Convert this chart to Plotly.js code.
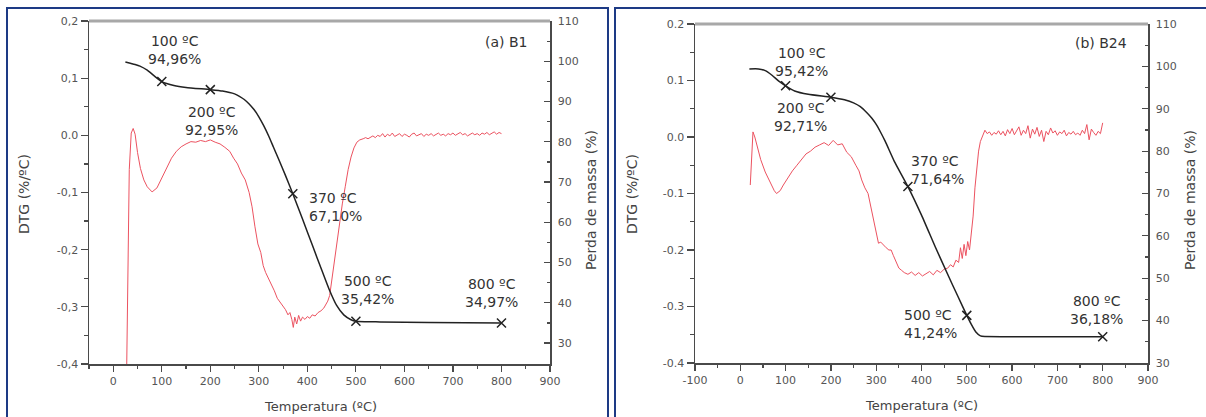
<!DOCTYPE html>
<html><head><meta charset="utf-8">
<script src="https://cdn.plot.ly/plotly-3.0.1.min.js"></script>
<style>html,body{margin:0;padding:0;background:#fff}#chart{width:1206px;height:417px}</style>
</head><body><div id="chart"></div>
<script>
// ---------------- DATA ----------------
// Panel (a) B1 – mass loss (TG) curve
const b1MassT = [25,35,45,55,70,85,100,125,150,200,225,250,260,270,280,290,300,310,320,330,340,355,370,390,410,430,445,460,475,490,500,550,650,800];
const b1Mass  = [99.8,99.5,99.2,98.8,97.8,96.3,94.96,94.0,93.5,92.95,92.6,91.9,91.3,90.5,89.4,88.0,86.2,84.0,81.5,78.7,75.9,71.6,67.1,60.8,54.4,48.0,43.3,39.4,37.0,35.8,35.42,35.25,35.1,34.97];
// Panel (a) B1 – DTG curve
const b1DtgT = [27,30,33,37,41,45,50,56,63,70,80,90,100,110,120,130,140,150,160,170,180,190,200,210,220,230,240,248,256,264,272,280,286,292,298,304,309,314,320,326,332,338,344,350,355,360,364,368,371,374,378,382,386,390,395,400,405,410,416,422,428,434,438,442,446,450,455,460,466,472,478,484,490,496,502,508,515,
  520,525,530,535,540,545,550,555,560,565,570,575,580,585,590,595,600,605,610,615,620,625,630,635,640,645,650,655,660,665,670,675,680,685,690,695,700,705,710,715,720,725,730,735,740,745,750,755,760,765,770,775,780,785,790,795,800];
const b1Dtg = [-0.45,-0.22,-0.06,0.004,0.012,0.002,-0.03,-0.058,-0.078,-0.09,-0.099,-0.092,-0.074,-0.055,-0.04,-0.028,-0.02,-0.015,-0.011,-0.012,-0.009,-0.011,-0.008,-0.012,-0.015,-0.021,-0.028,-0.04,-0.05,-0.066,-0.078,-0.1,-0.125,-0.16,-0.19,-0.205,-0.228,-0.24,-0.25,-0.262,-0.272,-0.285,-0.292,-0.3,-0.305,-0.314,-0.31,-0.322,-0.336,-0.318,-0.33,-0.315,-0.325,-0.318,-0.322,-0.317,-0.32,-0.314,-0.316,-0.31,-0.307,-0.302,-0.297,-0.29,-0.28,-0.255,-0.22,-0.19,-0.155,-0.12,-0.09,-0.06,-0.038,-0.022,-0.012,-0.008,-0.006,
  -0.004,-0.006,-0.003,-0.001,-0.004,0.000,-0.002,0.003,-0.003,0.002,-0.001,0.004,-0.002,0.001,0.003,-0.002,0.002,0.000,-0.003,0.002,0.004,-0.001,0.001,0.003,-0.002,0.002,0.000,0.003,-0.001,0.001,0.004,0.000,0.002,-0.001,0.003,0.001,0.004,0.000,0.002,0.005,0.001,0.003,-0.001,0.002,0.004,0.001,0.003,0.000,0.004,0.002,0.005,0.001,0.003,0.006,0.002,0.005,0.003];
const b1MarkT = [100,200,370,500,800];
const b1MarkV = [94.96,92.95,67.10,35.42,34.97];
const b1Labels = ['100 ºC<br>94,96%','200 ºC<br>92,95%','370 ºC<br>67,10%','500 ºC<br>35,42%','800 ºC<br>34,97%'];

// Panel (b) B24 – mass loss (TG) curve
const b2MassT = [20,40,55,70,85,100,120,150,200,230,250,265,280,290,300,310,320,340,370,400,430,460,480,500,510,520,530,540,600,700,800];
const b2Mass  = [99.4,99.4,99.0,97.9,96.5,95.42,94.2,93.4,92.71,92.1,91.4,90.5,89.0,87.8,86.3,84.4,82.3,77.6,71.64,64.9,57.5,50.4,45.8,41.24,39.1,37.3,36.4,36.25,36.22,36.2,36.18];
// Panel (b) B24 – DTG curve
const b2DtgT = [22,25,28,32,38,45,55,65,75,80,88,95,105,115,125,135,145,155,165,175,185,195,205,215,225,235,245,255,262,268,275,282,289,295,300,305,310,316,322,328,333,338,344,350,356,362,370,378,386,394,402,410,418,426,434,442,450,458,464,470,476,482,486,490,494,498,502,506,510,514,518,522,526,530,
  535,540,545,550,555,560,565,570,575,580,585,590,595,600,605,610,615,620,625,630,635,640,645,650,655,660,665,670,675,680,685,690,695,700,705,710,715,720,725,730,735,740,745,750,755,760,765,770,775,780,785,790,795,800];
const b2Dtg = [-0.085,-0.03,0.009,0.0,-0.02,-0.04,-0.062,-0.08,-0.095,-0.1,-0.095,-0.085,-0.072,-0.06,-0.05,-0.04,-0.03,-0.025,-0.018,-0.014,-0.01,-0.015,-0.006,-0.014,-0.012,-0.027,-0.035,-0.05,-0.06,-0.076,-0.09,-0.1,-0.125,-0.15,-0.17,-0.188,-0.186,-0.192,-0.196,-0.2,-0.2,-0.21,-0.222,-0.232,-0.236,-0.24,-0.243,-0.239,-0.245,-0.24,-0.246,-0.242,-0.238,-0.244,-0.236,-0.24,-0.234,-0.232,-0.226,-0.23,-0.218,-0.222,-0.196,-0.215,-0.19,-0.21,-0.185,-0.2,-0.175,-0.14,-0.09,-0.05,-0.025,-0.008,
  0.004,0.012,0.006,0.009,0.003,0.008,0.005,0.011,0.004,0.010,0.002,0.013,0.006,0.015,0.004,0.010,0.018,0.003,0.012,0.006,0.020,-0.002,0.014,0.005,0.017,0.001,0.012,-0.008,0.010,0.004,0.016,0.007,0.011,0.003,0.009,0.006,0.012,0.002,0.008,0.005,0.010,0.004,0.007,0.003,0.012,0.006,0.022,-0.005,0.014,0.008,0.003,0.010,0.006,0.025];
const b2MarkT = [100,200,370,500,800];
const b2MarkV = [95.42,92.71,71.64,41.24,36.18];
const b2Labels = ['100 ºC<br>95,42%','200 ºC<br>92,71%','370 ºC<br>71,64%','500 ºC<br>41,24%','800 ºC<br>36,18%'];

// Tick labels
const dtgTickVals = [-0.4,-0.3,-0.2,-0.1,0.0,0.1,0.2];
const b1DtgTickText = ['-0,4','-0,3','-0,2','-0,1','0.0','0,1','0,2'];
const b2DtgTickText = ['-0.4','-0.3','-0.2','-0.1','0.0','0.1','0.2'];
const b2TempTickVals = [-100,0,100,200,300,400,500,600,700,800,900];
const b2TempTickText = ['-100','0','100','200','300','400','500','600','700','800','900'];

// ---------------- LAYOUT ----------------
const W = 1206, H = 417;
const FONT = 'DejaVu Sans';
const red = 'rgb(236,82,96)';
const ink = '#222';
const axCol = '#4a4a4a';
const tickFont = {family: FONT, size: 11, color: '#555'};

const P1 = {l: 89, r: 550, t: 21, b: 364};
const P2 = {l: 695, r: 1148, t: 24, b: 363};
const dx = p => [p.l / W, p.r / W];
const dy = p => [1 - p.b / H, 1 - p.t / H];

const b1Off = [[13,32,'center'],[1,-31,'center'],[14,-13,'left'],[12,31,'center'],[-10,30,'center']];
const b2Off = [[16,24,'center'],[-30,-20,'center'],[1,17,'left'],[-8,-9,'right'],[-6,27,'center']];

const markerStyle = {symbol: 'x-thin-open', size: 9, color: ink, line: {width: 1.5, color: ink}};
const traces = [
  {x: b1DtgT, y: b1Dtg, xaxis: 'x', yaxis: 'y', mode: 'lines', line: {color: red, width: 1}},
  {x: b1MassT, y: b1Mass, xaxis: 'x', yaxis: 'y2', mode: 'lines', line: {color: ink, width: 1.5, shape: 'spline', smoothing: 0.5}},
  {x: b1MarkT, y: b1MarkV, xaxis: 'x', yaxis: 'y2', mode: 'markers', marker: markerStyle},
  {x: b2DtgT, y: b2Dtg, xaxis: 'x2', yaxis: 'y3', mode: 'lines', line: {color: red, width: 1}},
  {x: b2MassT, y: b2Mass, xaxis: 'x2', yaxis: 'y4', mode: 'lines', line: {color: ink, width: 1.5, shape: 'spline', smoothing: 0.5}},
  {x: b2MarkT, y: b2MarkV, xaxis: 'x2', yaxis: 'y4', mode: 'markers', marker: markerStyle}
];

const base = {showgrid: false, zeroline: false, showline: true, linecolor: axCol, linewidth: 1.5, tickcolor: axCol, tickwidth: 1.2, tickfont: tickFont, fixedrange: true};

function xAx(p, range, yName, extra) {
  return Object.assign({}, base, {domain: dx(p), range: range, anchor: yName, tick0: 0, dtick: 100, ticks: 'outside', ticklen: 6,
    minor: {tickmode: 'linear', tick0: 0, dtick: 50, ticks: 'outside', ticklen: 3, tickcolor: axCol}}, extra || {});
}
function yDtg(p, xName, text) {
  return Object.assign({}, base, {domain: dy(p), range: [-0.4, 0.2], anchor: xName, tickmode: 'array', tickvals: dtgTickVals, ticktext: text, ticks: 'outside', ticklen: 7,
    minor: {tickmode: 'linear', tick0: -0.4, dtick: 0.05, ticks: 'outside', ticklen: 4, tickcolor: axCol}});
}
function yMass(over, xName, range) {
  return Object.assign({}, base, {overlaying: over, side: 'right', anchor: xName, range: range, tick0: 30, dtick: 10, ticks: 'inside', ticklen: 6, ticklabelstandoff: 4,
    minor: {tickmode: 'linear', tick0: 30, dtick: 5, ticks: 'inside', ticklen: 3, tickcolor: axCol}});
}

const ann = [];
function addLabels(T, V, L, off, xr, yr) {
  for (let i = 0; i < T.length; i++) {
    ann.push({x: T[i], y: V[i], xref: xr, yref: yr, text: L[i], showarrow: false, xanchor: off[i][2], yanchor: 'middle',
      xshift: off[i][0], yshift: off[i][1], align: off[i][2] === 'center' ? 'center' : 'left',
      font: {family: FONT, size: 14, color: '#333'}});
  }
}
addLabels(b1MarkT, b1MarkV, b1Labels, b1Off, 'x', 'y2');
addLabels(b2MarkT, b2MarkV, b2Labels, b2Off, 'x2', 'y4');

function pt(px, py, text, opts) {
  return Object.assign({x: px / W, y: 1 - py / H, xref: 'paper', yref: 'paper', text: text, showarrow: false,
    xanchor: 'center', yanchor: 'middle', font: {family: FONT, size: 13, color: '#444'}}, opts || {});
}
const titleFont = {family: FONT, size: 14, color: '#444'};
ann.push(pt(506, 42, '(a) B1', {font: {family: FONT, size: 14, color: '#333'}}));
ann.push(pt(1101, 43, '(b) B24', {font: {family: FONT, size: 14, color: '#333'}}));
ann.push(pt(320, 406, 'Temperatura (ºC)'));
ann.push(pt(921, 405, 'Temperatura (ºC)'));
ann.push(pt(24, 194, 'DTG (%/ºC)', {textangle: -90, font: titleFont}));
ann.push(pt(591, 200, 'Perda de massa (%)', {textangle: -90, font: titleFont}));
ann.push(pt(632, 194, 'DTG (%/ºC)', {textangle: -90, font: titleFont}));
ann.push(pt(1190, 200, 'Perda de massa (%)', {textangle: -90, font: titleFont}));

const navy = '#1d3a85';
const shapes = [
  {type: 'rect', xref: 'paper', yref: 'paper', x0: 7 / W, x1: 608 / W, y0: 1 - 425 / H, y1: 1 - 8 / H, line: {color: navy, width: 2}},
  {type: 'rect', xref: 'paper', yref: 'paper', x0: 615 / W, x1: 1210 / W, y0: 1 - 425 / H, y1: 1 - 8 / H, line: {color: navy, width: 2}},
  {type: 'line', xref: 'paper', yref: 'paper', x0: P1.l / W, x1: P1.r / W, y0: 1 - P1.t / H, y1: 1 - P1.t / H, line: {color: '#a8a8a8', width: 3}},
  {type: 'line', xref: 'paper', yref: 'paper', x0: P2.l / W, x1: P2.r / W, y0: 1 - P2.t / H, y1: 1 - P2.t / H, line: {color: '#a8a8a8', width: 3}}
];

const layout = {
  width: W, height: H, margin: {l: 0, r: 0, t: 0, b: 0}, paper_bgcolor: '#fff', plot_bgcolor: '#fff',
  showlegend: false, font: {family: FONT},
  xaxis: xAx(P1, [-50, 900], 'y'),
  yaxis: yDtg(P1, 'x', b1DtgTickText),
  yaxis2: yMass('y', 'x', [24.8, 110]),
  xaxis2: xAx(P2, [-100, 900], 'y3', {tickmode: 'array', tickvals: b2TempTickVals, ticktext: b2TempTickText}),
  yaxis3: yDtg(P2, 'x2', b2DtgTickText),
  yaxis4: yMass('y3', 'x2', [30, 110]),
  annotations: ann, shapes: shapes
};

Plotly.newPlot('chart', traces, layout, {displayModeBar: false, staticPlot: true});
</script></body></html>
